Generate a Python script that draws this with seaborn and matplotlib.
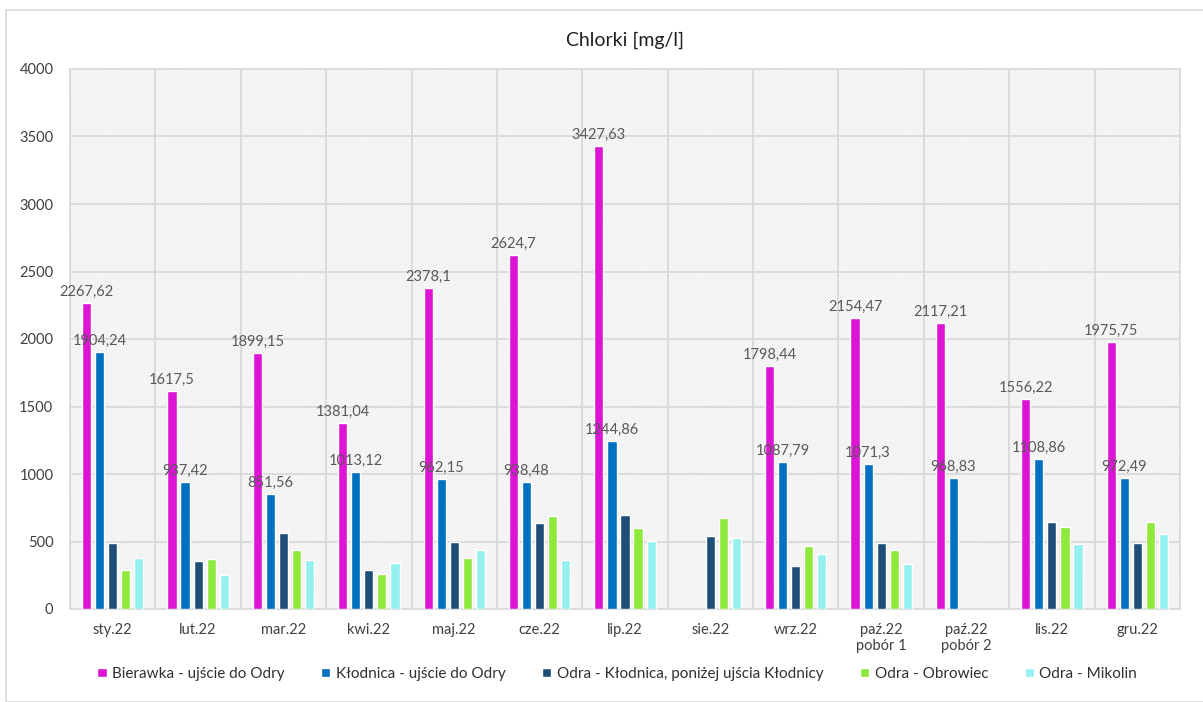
import numpy as np
import pandas as pd
import matplotlib
matplotlib.use("Agg")
import matplotlib.pyplot as plt
from matplotlib.patches import Rectangle
import seaborn as sns

months = ["sty.22", "lut.22", "mar.22", "kwi.22", "maj.22", "cze.22", "lip.22",
          "sie.22", "wrz.22", "paź.22\npobór 1", "paź.22\npobór 2", "lis.22", "gru.22"]
series = ["Bierawka - ujście do Odry", "Kłodnica - ujście do Odry",
          "Odra - Kłodnica, poniżej ujścia Kłodnicy", "Odra - Obrowiec", "Odra - Mikolin"]
bierawka = [2267.62, 1617.5, 1899.15, 1381.04, 2378.1, 2624.7, 3427.63,
            np.nan, 1798.44, 2154.47, 2117.21, 1556.22, 1975.75]
klodnica = [1904.24, 937.42, 851.56, 1013.12, 962.15, 938.48, 1244.86,
            np.nan, 1087.79, 1071.3, 968.83, 1108.86, 972.49]
odra_klodnica = [487, 354, 562, 287, 497, 636, 698, 539, 319, 487, np.nan, 646, 492]
odra_obrowiec = [289, 371, 436, 257, 378, 692, 601, 675, 470, 435, np.nan, 609, 646]
odra_mikolin = [381, 252, 366, 344, 440, 366, 507, 527, 408, 334, np.nan, 482, 557]
colors = ["#DE14D4", "#0070C0", "#1F4E79", "#8FE83C", "#95F0F0"]

values = [bierawka, klodnica, odra_klodnica, odra_obrowiec, odra_mikolin]
rows = []
for s, vals in zip(series, values):
    for m, v in zip(months, vals):
        rows.append({"month": m, "series": s, "value": v})
df = pd.DataFrame(rows)

sns.set_theme(style="white")
plt.rcParams["font.family"] = ["Lato", "DejaVu Sans"]
plt.rcParams["hatch.linewidth"] = 0.5
plt.rcParams["hatch.color"] = "#e0e0e0"

fig = plt.figure(figsize=(12.03, 7.02), dpi=100)
W, H = 1203, 702
ax = fig.add_axes([70 / W, 1 - 609 / H, (1180 - 70) / W, (609 - 69) / H])

# outer chart border
fig.patches.append(Rectangle((6 / W, 0), 1.2, 1 - 10 / H, transform=fig.transFigure,
                             fill=False, edgecolor="#d9d9d9", linewidth=1.2, zorder=0))

# hatched plot background
ax.set_facecolor("white")
ax.add_patch(Rectangle((0, 0), 1, 1, transform=ax.transAxes, facecolor="white",
                       edgecolor="#e0e0e0", hatch="\\" * 12, linewidth=0, zorder=0))

sns.barplot(data=df, x="month", y="value", hue="series", order=months, hue_order=series,
            palette=colors, width=0.765, gap=0.3, errorbar=None, ax=ax, zorder=3,
            saturation=1)

ax.set_xlim(-0.5, len(months) - 0.5)
ax.set_ylim(0, 4000)
ax.set_yticks(np.arange(0, 4001, 500))
ax.set_xticks(np.arange(-0.5, len(months), 1.0), minor=True)
ax.grid(True, which="major", axis="y", color="#d9d9d9", linewidth=1.3, zorder=1)
ax.grid(True, which="minor", axis="x", color="#d9d9d9", linewidth=1.3, zorder=1)
ax.grid(False, which="major", axis="x")
ax.set_axisbelow(True)
ax.tick_params(axis="both", which="both", length=0, labelsize=10.5, colors="#404040")
ax.tick_params(axis="y", pad=12)
ax.tick_params(axis="x", pad=10)
ax.set_xlabel("")
ax.set_ylabel("")
for sp in ax.spines.values():
    sp.set_color("#d9d9d9")
    sp.set_linewidth(1.2)

# data labels for first two series
for cont, s in zip(ax.containers, series):
    if s in series[:2]:
        labels = []
        for v in cont.datavalues:
            if np.isnan(v):
                labels.append("")
            else:
                txt = f"{v:.2f}".rstrip("0").rstrip(".").replace(".", ",")
                labels.append(txt)
        ax.bar_label(cont, labels=labels, padding=3, fontsize=10.5, color="#595959")

ax.set_title("Chlorki [mg/l]", fontsize=14, color="#202020", pad=17)

ax.legend(loc="upper center", bbox_to_anchor=(0.493, -0.082), ncol=5, frameon=False,
          fontsize=11, handlelength=0.6, handleheight=0.6, handletextpad=0.35,
          columnspacing=2.4, labelcolor="#303030")

fig.savefig("out.png", dpi=100)
